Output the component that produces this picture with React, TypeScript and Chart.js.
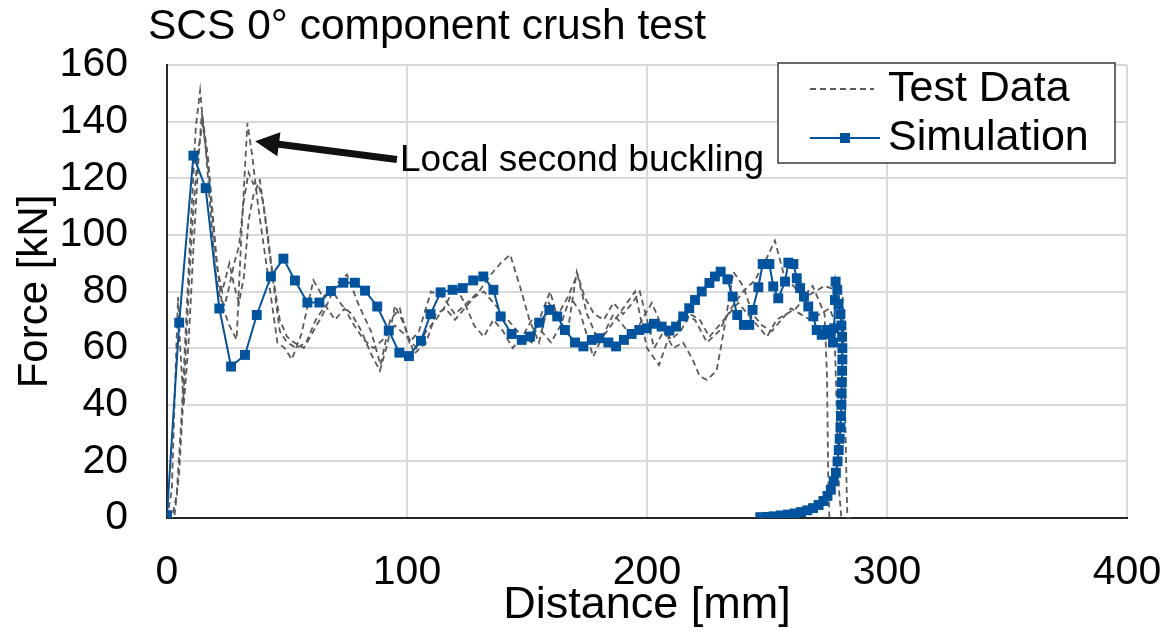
import React, { useEffect, useRef } from "react";
import { Chart, registerables } from "chart.js";

Chart.register(...registerables);

const FONT = "'Liberation Sans', Arial, Helvetica, sans-serif";

const chartTitle = "SCS 0° component crush test";
const xAxisTitle = "Distance [mm]";
const yAxisTitle = "Force [kN]";
const annotationText = "Local second buckling";
const legendLabels = ["Test Data", "Simulation"];

const xTicks = [0, 100, 200, 300, 400];
const yTicks = [0, 20, 40, 60, 80, 100, 120, 140, 160];

// Simulation (blue squares)
const simX = [
  0, 5.1, 11, 16.1, 21.8, 26.7, 32.5, 37.4, 43.3, 48.5,
  53.3, 58.5, 63.5, 68.3, 73.5, 78.3, 82.5, 87.6, 92.4, 96.8,
  100.8, 105.8, 109.8, 114, 119, 123.2, 127.6, 131.8, 136, 139,
  143.6, 147.8, 151.3, 155.1, 159.3, 162.6, 165.8, 170, 173.5, 177,
  180.1, 183.9, 187.1, 190.4, 193.6, 196.8, 199.9, 202.9, 206.1, 209.3,
  212.1, 215.1, 217.6, 220, 222.8, 226, 228.3, 230.7, 233.5, 235.7,
  237.6, 240.4, 242.6, 244, 246.4, 248.2, 251, 252.6, 254.7, 257.5,
  258.9, 261, 262.4, 263.8, 265.4, 267.2, 269.3, 270.7, 272.8, 274.9,
  276.5, 277.5, 278, 278.6, 279.3, 278.3, 279.8, 280.6, 281, 281.3,
  281.4, 281.4, 281.3, 281.2, 281.1, 281, 280.8, 280.6, 280.3, 279.9,
  279.4, 278.7, 277.8, 276.6, 275.2, 273.5, 271.5, 269.2, 266.8, 264.2,
  261.5, 258.7, 255.8, 252.8, 250, 247.2,
];
const simY = [
  1, 69, 128, 116.5, 74, 53.5, 57.6, 71.7, 85.3, 91.6,
  83.9, 76.1, 76.1, 80.2, 83.1, 83.1, 80.3, 74.7, 66.2, 58.4,
  57.2, 62.6, 72, 79.7, 80.6, 81.2, 83.9, 85.3, 80.6, 71.2,
  65, 62.9, 64.1, 69, 73.5, 71.2, 66.4, 62, 60.6, 62.9,
  63.5, 62, 60.6, 62.9, 65, 66.4, 67, 68.6, 67.6, 66.2,
  67.6, 71.2, 74.1, 77, 80, 83, 85.3, 87, 84.3, 78.2,
  71.7, 68.2, 68.2, 73.5, 81.5, 89.7, 89.7, 81.8, 77.6, 83.5,
  90.2, 89.7, 84.7, 81.2, 78.2, 74.7, 71.2, 66.4, 64.7, 66.4,
  65, 62, 67, 83.5, 80.6, 77, 75.6, 72, 68, 64,
  60, 56, 52, 48, 44, 40, 36, 32, 28, 24,
  20, 16, 13, 10, 7.8, 6, 4.6, 3.5, 2.7, 2.1,
  1.6, 1.2, 0.9, 0.6, 0.4, 0.3,
];

// Test data curves (grey dashed)
const testAX = [
  0, 2, 4, 6, 8, 10, 12, 13.8, 15.5, 17.5,
  20, 23, 26, 29, 31, 33.5, 35.5, 38, 40.5, 43,
  46, 49, 52, 56, 61, 65, 70, 75, 80, 85,
  89, 93, 97, 101, 105, 110, 115, 120, 125, 130,
  135, 139, 143, 147, 151, 155, 159, 163, 167, 171,
  175, 180, 185, 190, 195, 200, 205, 210, 215, 220,
  225, 230, 235, 240, 245, 250, 253.3, 257, 261, 265,
  269, 272, 274, 275, 275.5, 276, 278,
];
const testAY = [
  0, 0, 8, 35, 70, 105, 138, 151, 135, 121,
  95, 75, 68, 63, 100, 139.5, 128, 110, 95, 80,
  62, 60, 56, 65, 84, 78, 82, 86, 75, 66,
  54, 70, 74, 62, 66, 80, 78, 72, 76, 80,
  86, 90, 93, 82, 70, 62, 76, 72, 78, 86,
  72, 62, 68, 74, 80, 60, 54, 66, 72, 70,
  62, 66, 74, 80, 84, 92, 98, 86, 82, 78,
  82, 76, 72, 50, 15, 0, 0,
];

const testBX = [
  0, 2, 3.5, 4.6, 5.5, 7, 9, 11, 13, 14.5,
  16, 18, 20, 22, 24, 26, 28, 30, 32, 34,
  36, 38.7, 41, 44, 47, 50, 54, 58, 62, 66,
  70, 74, 78, 82, 86, 90, 95, 100, 104, 108,
  112, 116, 120, 124, 128, 132, 136, 140, 144, 148,
  152, 156, 160, 164, 168, 172, 177.6, 182, 186, 190,
  194, 198, 202, 206, 210, 214, 218, 222, 226, 230,
  234, 238, 242, 246, 250, 254, 258, 262, 266, 270,
  274, 277, 280, 281.5, 282.5, 283.2, 283.5, 285,
];
const testBY = [
  0, 10, 50, 78, 60, 40, 62, 95, 125, 143,
  132, 110, 88, 78, 75, 82, 90, 96, 112, 122,
  118, 119.4, 105, 85, 66, 62, 60, 62, 70, 75,
  70, 74, 68, 63, 60, 63, 68, 64, 60, 66,
  70, 75, 82, 76, 68, 64, 70, 66, 60, 64,
  70, 66, 62, 68, 78, 73, 57, 65, 72, 68,
  64, 70, 76, 68, 63, 66, 72, 70, 64, 68,
  72, 76, 72, 68, 64, 70, 72, 74, 78, 80,
  82, 81, 80, 78, 40, 10, 0, 0,
];

const testCX = [
  0, 3, 5, 7, 9, 11, 13, 15, 17, 19,
  21, 23, 26, 28, 30, 32, 34, 36, 38, 40,
  42, 44, 47, 50, 53, 57, 61, 65, 69, 73,
  77, 81, 85, 88.7, 92, 95, 99, 103, 108, 112,
  116, 120, 124, 128, 132, 136, 140, 144, 148, 152,
  156, 159.6, 163, 167, 170.7, 174, 178, 182, 186, 190,
  194, 197, 200, 203, 207, 211, 215, 219, 222, 225,
  229, 232, 236, 240, 244, 248, 252, 256, 260, 264,
  268, 272, 276, 278, 279, 280, 281, 282,
];
const testCY = [
  0, 0, 15, 45, 80, 110, 130, 140, 128, 108,
  88, 80, 90, 82, 76, 85, 105, 114, 118, 112,
  100, 86, 70, 64, 62, 60, 66, 72, 80, 75,
  72, 66, 58, 52, 62, 75, 68, 58, 62, 72,
  74, 70, 74, 78, 80, 76, 72, 68, 64, 62,
  72, 80, 70, 66, 87, 78, 72, 70, 76, 72,
  76, 80, 70, 60, 66, 60, 62, 56, 50, 48.8,
  52, 66, 87, 82, 72, 68, 66, 70, 74, 72,
  70, 72, 74, 70, 40, 10, 0, 0,
];

// annotation anchor points in data units
const arrowTip = [36.7, 133.1];
const arrowTail = [95.8, 126.6];
const annotationPos = [97.1, 126.2];

const SIM_COLOR = "#00539f";
const TEST_COLOR = "#5a5a5a";
const TEST_DASH = [6, 4];

const toPoints = (xs: number[], ys: number[]) => xs.map((x, i) => ({ x, y: ys[i] }));

const overlayPlugin = {
  id: "overlay",
  afterDraw(chart: any) {
    const ctx = chart.ctx as CanvasRenderingContext2D;
    const xs = chart.scales.x;
    const ys = chart.scales.y;
    ctx.save();

    // Title
    ctx.fillStyle = "#000";
    ctx.font = `42.5px ${FONT}`;
    ctx.textAlign = "left";
    ctx.textBaseline = "middle";
    ctx.fillText(chartTitle, 148, 27);

    // Annotation arrow
    const tx = xs.getPixelForValue(arrowTip[0]);
    const ty = ys.getPixelForValue(arrowTip[1]);
    const sx = xs.getPixelForValue(arrowTail[0]);
    const sy = ys.getPixelForValue(arrowTail[1]);
    const dx = tx - sx;
    const dy = ty - sy;
    const len = Math.hypot(dx, dy);
    const ux = dx / len;
    const uy = dy / len;
    const headLen = 24;
    const headHalf = 12;
    const bx = tx - ux * headLen;
    const by = ty - uy * headLen;
    ctx.strokeStyle = "#111";
    ctx.lineWidth = 7;
    ctx.lineCap = "butt";
    ctx.beginPath();
    ctx.moveTo(sx, sy);
    ctx.lineTo(bx + ux * 2, by + uy * 2);
    ctx.stroke();
    ctx.fillStyle = "#111";
    ctx.beginPath();
    ctx.moveTo(tx, ty);
    ctx.lineTo(bx - uy * headHalf, by + ux * headHalf);
    ctx.lineTo(bx + uy * headHalf, by - ux * headHalf);
    ctx.closePath();
    ctx.fill();

    ctx.fillStyle = "#000";
    ctx.font = `37px ${FONT}`;
    ctx.textAlign = "left";
    ctx.textBaseline = "middle";
    ctx.fillText(
      annotationText,
      xs.getPixelForValue(annotationPos[0]),
      ys.getPixelForValue(annotationPos[1])
    );

    // Legend
    const lx = 778, ly = 63, lw = 337, lh = 100;
    ctx.fillStyle = "#fff";
    ctx.fillRect(lx, ly, lw, lh);
    ctx.strokeStyle = "#3a3a3a";
    ctx.lineWidth = 1.5;
    ctx.setLineDash([]);
    ctx.strokeRect(lx, ly, lw, lh);

    // Test data row
    ctx.strokeStyle = TEST_COLOR;
    ctx.lineWidth = 1.8;
    ctx.setLineDash(TEST_DASH);
    ctx.beginPath();
    ctx.moveTo(810, 89);
    ctx.lineTo(874, 89);
    ctx.stroke();
    ctx.setLineDash([]);

    // Simulation row
    ctx.strokeStyle = SIM_COLOR;
    ctx.lineWidth = 2;
    ctx.beginPath();
    ctx.moveTo(810, 138);
    ctx.lineTo(880, 138);
    ctx.stroke();
    ctx.fillStyle = SIM_COLOR;
    ctx.fillRect(845 - 5, 138 - 5, 10, 10);

    ctx.fillStyle = "#000";
    ctx.font = `43px ${FONT}`;
    ctx.textAlign = "left";
    ctx.textBaseline = "middle";
    ctx.fillText(legendLabels[0], 888, 89);
    ctx.fillText(legendLabels[1], 888, 138);

    ctx.restore();
  },
};

export default function App() {
  const canvasRef = useRef<HTMLCanvasElement | null>(null);

  useEffect(() => {
    if (!canvasRef.current) return;
    const chart = new Chart(canvasRef.current, {
      type: "scatter",
      data: {
        datasets: [
          {
            label: legendLabels[1],
            data: toPoints(simX, simY),
            showLine: true,
            borderColor: SIM_COLOR,
            backgroundColor: SIM_COLOR,
            borderWidth: 2,
            pointStyle: "rect",
            pointRadius: 7,
            pointBorderWidth: 0,
            tension: 0,
            order: 0,
          },
          {
            label: legendLabels[0],
            data: toPoints(testAX, testAY),
            showLine: true,
            borderColor: TEST_COLOR,
            borderWidth: 1.8,
            borderDash: TEST_DASH,
            pointRadius: 0,
            tension: 0,
            order: 1,
          },
          {
            label: legendLabels[0] + " 2",
            data: toPoints(testBX, testBY),
            showLine: true,
            borderColor: TEST_COLOR,
            borderWidth: 1.8,
            borderDash: TEST_DASH,
            pointRadius: 0,
            tension: 0,
            order: 2,
          },
          {
            label: legendLabels[0] + " 3",
            data: toPoints(testCX, testCY),
            showLine: true,
            borderColor: TEST_COLOR,
            borderWidth: 1.8,
            borderDash: TEST_DASH,
            pointRadius: 0,
            tension: 0,
            order: 3,
          },
        ],
      },
      options: {
        animation: false,
        responsive: true,
        maintainAspectRatio: false,
        layout: { padding: { top: 65, right: 36, left: 0, bottom: 0 } },
        plugins: {
          legend: { display: false },
          title: { display: false },
          tooltip: { enabled: false },
        },
        scales: {
          x: {
            type: "linear",
            min: 0,
            max: 400,
            afterBuildTicks: (s: any) => {
              s.ticks = xTicks.map((v) => ({ value: v }));
            },
            afterFit: (s: any) => {
              s.height = 124;
              s.paddingLeft = 0;
              s.paddingRight = 0;
            },
            grid: { color: "#d9d9d9", lineWidth: 2, drawTicks: false },
            border: { display: true, color: "#262626", width: 2 },
            ticks: {
              color: "#000",
              padding: 30,
              font: { family: FONT, size: 41 },
              maxRotation: 0,
            },
            title: {
              display: true,
              text: xAxisTitle,
              color: "#000",
              font: { family: FONT, size: 45 },
              padding: { top: 0, bottom: 9 },
            },
          },
          y: {
            type: "linear",
            min: 0,
            max: 160,
            afterBuildTicks: (s: any) => {
              s.ticks = yTicks.map((v) => ({ value: v }));
            },
            afterFit: (s: any) => {
              s.width = 167;
              s.paddingTop = 0;
              s.paddingBottom = 0;
            },
            grid: { color: "#d9d9d9", lineWidth: 2, drawTicks: false },
            border: { display: true, color: "#262626", width: 2 },
            ticks: {
              color: "#000",
              padding: 39,
              font: { family: FONT, size: 41 },
            },
            title: {
              display: true,
              text: yAxisTitle,
              color: "#000",
              font: { family: FONT, size: 42 },
              padding: { top: 10, bottom: 0 },
            },
          },
        },
      },
      plugins: [overlayPlugin],
    });
    return () => chart.destroy();
  }, []);

  return (
    <div
      style={{
        position: "absolute",
        left: 0,
        top: 0,
        width: 1163,
        height: 642,
        background: "#fff",
      }}
    >
      <canvas ref={canvasRef} />
    </div>
  );
}
